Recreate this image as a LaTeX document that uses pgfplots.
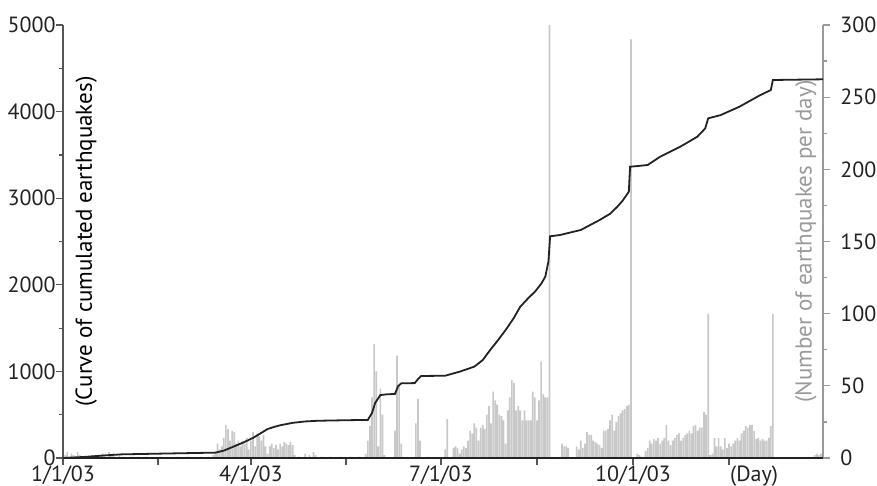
\documentclass[border=0pt]{standalone}
\usepackage{pgfplots}
\usepackage{pgfplotstable}
\usepackage{fontspec}
\setmainfont{PT Sans}
\pgfplotsset{compat=1.18}
\definecolor{barc}{HTML}{C8C8C8}
\definecolor{rightc}{HTML}{9A9A9A}
\definecolor{leftc}{HTML}{555555}
\definecolor{curvec}{HTML}{222222}
\definecolor{tickc}{HTML}{222222}

\pgfplotstableread{
day count
1 2
2 4
3 1
4 3
5 2
6 1
7 4
8 2
9 1
12 1
14 2
16 1
18 2
19 3
20 1
22 4
23 2
24 3
25 1
27 2
29 1
33 1
36 1
40 1
47 1
55 1
60 1
66 1
70 1
72 2
73 4
74 10
75 6
76 8
77 14
78 23
79 20
80 12
81 19
82 18
83 10
84 12
85 8
86 12
87 10
88 14
89 6
90 12
91 18
92 8
93 17
94 15
95 12
96 16
97 8
98 3
99 8
100 10
101 7
102 9
103 6
104 10
105 8
106 11
107 10
108 9
109 11
110 9
111 2
113 1
116 3
118 2
120 4
121 2
124 1
128 1
133 1
138 1
142 1
145 3
146 12
147 22
148 42
149 79
150 60
151 8
152 48
153 30
154 2
159 19
160 71
161 50
162 10
169 24
170 41
171 12
175 1
183 6
184 27
187 7
188 8
189 7
190 3
191 6
192 8
193 7
194 12
195 19
196 17
197 24
198 21
199 12
200 21
201 23
202 20
203 30
204 36
205 24
206 46
207 40
208 37
209 30
210 29
211 26
212 10
213 33
214 42
215 54
216 52
217 33
218 36
219 33
220 26
221 33
222 26
223 26
224 26
225 46
226 42
227 26
228 40
229 67
230 44
231 42
232 42
233 300
239 10
240 8
241 8
242 7
246 8
247 6
248 12
249 7
250 10
251 18
252 16
253 16
254 12
255 11
256 10
257 9
258 7
259 19
260 19
261 20
262 26
263 30
264 19
265 25
266 29
267 31
268 33
269 34
270 36
271 37
272 290
275 3
276 2
277 1
279 5
280 7
281 12
282 10
283 13
284 12
285 14
286 10
287 12
288 14
289 23
290 12
291 9
292 12
293 14
294 16
295 17
296 12
297 14
298 16
299 17
300 19
301 17
302 22
303 23
304 19
305 21
306 21
307 32
308 30
309 100
310 2
311 3
312 14
313 8
314 14
315 8
316 6
317 14
318 7
319 10
320 8
321 10
322 12
323 14
324 12
325 17
326 19
327 22
328 21
329 23
330 23
331 19
332 13
333 14
334 12
335 13
336 12
337 12
338 14
339 22
340 100
360 2
361 3
362 2
363 3
}\daily

\pgfplotstableread{
day total
0 0
10 12
20 30
28 42
50 52
73 62
77 85
82 135
86 175
91 232
95 290
98 335
101 358
104 378
110 406
116 422
122 430
135 436
146 440
148 520
149.5 635
152 727
155 735
159 740
160.5 830
162 862
168.5 865
170 910
171.5 947
183 950
190 997
197 1055
201 1130
204.6 1247
208 1350
212 1478
216 1620
219 1747
223 1850
226 1920
229 2010
231 2094
232.5 2270
233.3 2560
238 2575
248 2633
257 2748
262 2820
265.5 2902
268 2970
271 3075
271.6 3363
280 3383
286 3479
295.6 3594
303.8 3710
307.6 3806
309 3922
315 3960
324 4057
334 4191
339 4249
340 4365
364 4373
}\cumul

\begin{document}
\begin{tikzpicture}
\useasboundingbox (-31.5bp,-14bp) rectangle (407bp,229bp);
% right axis: daily counts
\begin{axis}[
  at={(0,0)}, anchor=south west,
  scale only axis, width=380bp, height=216.5bp,
  xmin=0, xmax=364, ymin=0, ymax=300,
  axis x line=none, axis y line*=right,
  y axis line style={draw=rightc, line width=0.7bp},
  ytick={0,50,...,300}, minor y tick num=1,
  tick align=outside,
  major tick length=3.5bp, minor tick length=2bp,
  every tick/.style={draw=rightc, line width=0.6bp},
  yticklabel style={font=\fontsize{11bp}{13bp}\selectfont, text=tickc, inner sep=0pt, xshift=5bp},
  /pgf/number format/assume math mode=true,
  ylabel={(Number of earthquakes per day)},
  ylabel style={at={(axis description cs:0.963,0.5)}, anchor=north, inner sep=0pt,
    font=\fontsize{11.5bp}{13bp}\selectfont, text=rightc},
]
\addplot[ybar, bar width=0.8, fill=barc, draw=none] table[x=day, y=count] {\daily};
\end{axis}
% left axis: cumulative curve
\begin{axis}[
  at={(0,0)}, anchor=south west,
  scale only axis, width=380bp, height=216.5bp,
  xmin=0, xmax=364, ymin=0, ymax=5000,
  axis x line*=bottom, axis y line*=left,
  x axis line style={draw=curvec, line width=0.8bp},
  y axis line style={draw=leftc, line width=0.7bp},
  ytick={0,1000,...,5000}, minor y tick num=1,
  xtick={0,45.5,90,135.5,181,227,273,319},
  xticklabels={1/1/03,,4/1/03,,7/1/03,,10/1/03,},
  extra x ticks={331}, extra x tick labels={(Day)},
  extra x tick style={major tick style={draw=none}},
  tick align=outside,
  major tick length=3.5bp, minor tick length=2bp,
  every tick/.style={draw=leftc, line width=0.6bp},
  ticklabel style={font=\fontsize{11bp}{13bp}\selectfont, text=tickc, inner sep=0pt},
  xticklabel style={yshift=0bp},
  yticklabel style={xshift=0bp},
  /pgf/number format/assume math mode=true,
  /pgf/number format/1000 sep={},
  scaled y ticks=false,
  ylabel={(Curve of cumulated earthquakes)},
  ylabel style={at={(axis description cs:0.016,0.5)}, anchor=north, inner sep=0pt,
    font=\fontsize{11.5bp}{13bp}\selectfont, text=black},
]
\addplot[curvec, line width=0.9bp, no marks] table[x=day, y=total] {\cumul};
\end{axis}
\end{tikzpicture}
\end{document}
